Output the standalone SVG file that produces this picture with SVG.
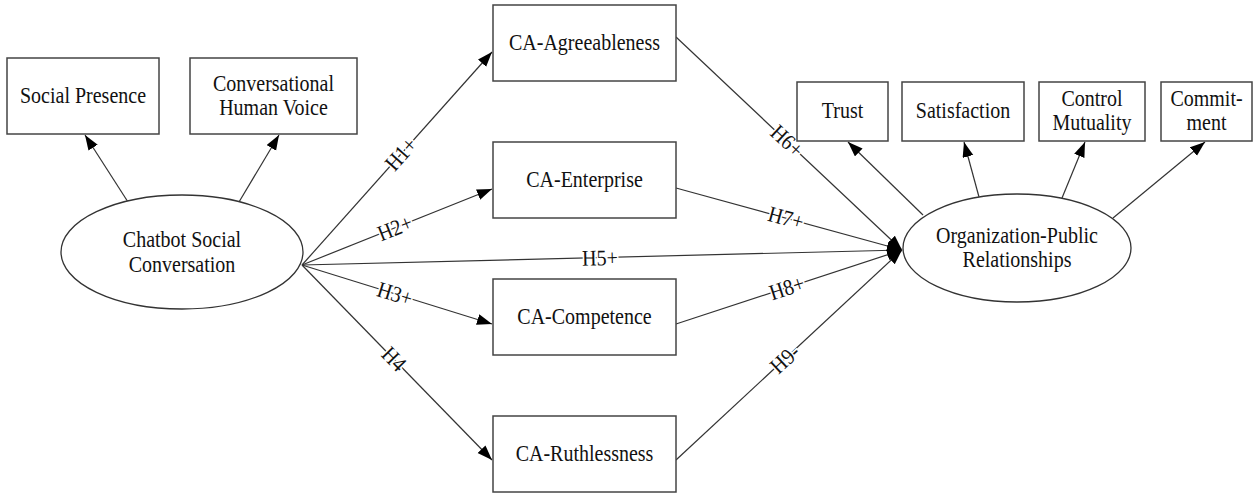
<svg xmlns="http://www.w3.org/2000/svg" width="1259" height="498" viewBox="0 0 1259 498">
<style>
.box{fill:#fff;stroke:#444;stroke-width:1.5}
.ell{fill:#fff;stroke:#333;stroke-width:1.3}
.t{font-family:"Liberation Serif","Times New Roman",serif;font-size:20px;fill:#111;text-anchor:middle}
.e{fill:none;stroke:#333;stroke-width:1.2}
.lbl{font-family:"Liberation Serif","Times New Roman",serif;font-size:20px;fill:#111;text-anchor:middle;dominant-baseline:central;stroke:#fff;stroke-width:3;paint-order:stroke}
</style>
<defs>
<marker id="ah" markerUnits="userSpaceOnUse" markerWidth="16" markerHeight="12" refX="15" refY="5.5" orient="auto">
<path d="M0,0 L15,5.5 L0,11 z" fill="#000"/>
</marker>
</defs>
<rect width="1259" height="498" fill="#fff"/>
<g id="connectors">
<line class="e" x1="128" y1="202" x2="85" y2="135" marker-end="url(#ah)"/>
<line class="e" x1="239" y1="202" x2="279" y2="135" marker-end="url(#ah)"/>
<line class="e" x1="302" y1="265" x2="492" y2="52" marker-end="url(#ah)"/>
<line class="e" x1="302" y1="265" x2="492" y2="189" marker-end="url(#ah)"/>
<line class="e" x1="302" y1="265" x2="902" y2="250" marker-end="url(#ah)"/>
<line class="e" x1="302" y1="265" x2="492" y2="324" marker-end="url(#ah)"/>
<line class="e" x1="302" y1="265" x2="492" y2="460" marker-end="url(#ah)"/>
<line class="e" x1="676" y1="37" x2="902" y2="250" marker-end="url(#ah)"/>
<line class="e" x1="676" y1="188" x2="902" y2="250" marker-end="url(#ah)"/>
<line class="e" x1="676" y1="324" x2="902" y2="250" marker-end="url(#ah)"/>
<line class="e" x1="676" y1="460" x2="902" y2="250" marker-end="url(#ah)"/>
<line class="e" x1="923" y1="215" x2="848" y2="142" marker-end="url(#ah)"/>
<line class="e" x1="979" y1="197" x2="964" y2="142" marker-end="url(#ah)"/>
<line class="e" x1="1062" y1="198" x2="1085" y2="142" marker-end="url(#ah)"/>
<line class="e" x1="1113" y1="218" x2="1205" y2="142" marker-end="url(#ah)"/>
<text class="lbl" transform="translate(401 154) rotate(-48.3) scale(1 1.12)">H1+</text>
<text class="lbl" transform="translate(395 228) rotate(-21.8) scale(1 1.12)">H2+</text>
<text class="lbl" transform="translate(600 258) rotate(-1.4) scale(1 1.12)">H5+</text>
<text class="lbl" transform="translate(395 294) rotate(17.2) scale(1 1.12)">H3+</text>
<text class="lbl" transform="translate(394 359) rotate(45.7) scale(1 1.12)">H4</text>
<text class="lbl" transform="translate(787 141) rotate(43.2) scale(1 1.12)">H6+</text>
<text class="lbl" transform="translate(786 218) rotate(15.3) scale(1 1.12)">H7+</text>
<text class="lbl" transform="translate(787 288) rotate(-18.1) scale(1 1.12)">H8+</text>
<text class="lbl" transform="translate(785 359) rotate(-42.8) scale(1 1.12)">H9-</text>
</g>
<g id="social-presence"><rect class="box" x="7" y="58" width="152" height="76"/><text class="t" transform="translate(83 103) scale(1 1.15)">Social Presence</text></g>
<g id="conversational-human-voice"><rect class="box" x="190" y="58" width="167" height="76"/><text class="t" transform="translate(273.5 91) scale(1 1.15)">Conversational</text><text class="t" transform="translate(273.5 115) scale(1 1.15)">Human Voice</text></g>
<g id="chatbot-social-conversation"><ellipse class="ell" cx="182" cy="252" rx="121" ry="57"/><text class="t" transform="translate(182 247) scale(1 1.15)">Chatbot Social</text><text class="t" transform="translate(182 272) scale(1 1.15)">Conversation</text></g>
<g id="ca-agreeableness"><rect class="box" x="493" y="5" width="183" height="76"/><text class="t" transform="translate(584.5 50) scale(1 1.15)">CA-Agreeableness</text></g>
<g id="ca-enterprise"><rect class="box" x="493" y="142" width="183" height="76"/><text class="t" transform="translate(584.5 187) scale(1 1.15)">CA-Enterprise</text></g>
<g id="ca-competence"><rect class="box" x="493" y="279" width="183" height="76"/><text class="t" transform="translate(584.5 324) scale(1 1.15)">CA-Competence</text></g>
<g id="ca-ruthlessness"><rect class="box" x="493" y="416" width="183" height="76"/><text class="t" transform="translate(584.5 461) scale(1 1.15)">CA-Ruthlessness</text></g>
<g id="organization-public-relationships"><ellipse class="ell" cx="1017" cy="248" rx="114" ry="54"/><text class="t" transform="translate(1017 243) scale(1 1.15)">Organization-Public</text><text class="t" transform="translate(1017 267) scale(1 1.15)">Relationships</text></g>
<g id="trust"><rect class="box" x="797" y="82" width="91" height="59"/><text class="t" transform="translate(842.5 118) scale(1 1.15)">Trust</text></g>
<g id="satisfaction"><rect class="box" x="902" y="82" width="122" height="59"/><text class="t" transform="translate(963 118) scale(1 1.15)">Satisfaction</text></g>
<g id="control-mutuality"><rect class="box" x="1039" y="82" width="106" height="59"/><text class="t" transform="translate(1092 106) scale(1 1.15)">Control</text><text class="t" transform="translate(1092 130) scale(1 1.15)">Mutuality</text></g>
<g id="commitment"><rect class="box" x="1161" y="82" width="91" height="59"/><text class="t" transform="translate(1206.5 106) scale(1 1.15)">Commit-</text><text class="t" transform="translate(1206.5 130) scale(1 1.15)">ment</text></g>
</svg>
